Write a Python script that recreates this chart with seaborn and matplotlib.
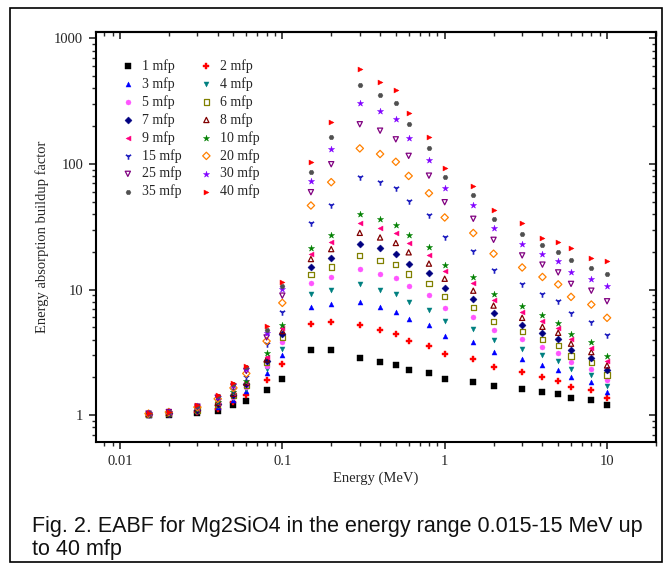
import numpy as np
import pandas as pd
import matplotlib
matplotlib.use("Agg")
import matplotlib.pyplot as plt
import seaborn as sns
from matplotlib.patches import Rectangle
from matplotlib.ticker import NullFormatter, LogLocator

# Data: energy grid (MeV) and EABF values for each penetration depth
energy = [0.015, 0.02, 0.03, 0.04, 0.05, 0.06, 0.08, 0.1, 0.15, 0.2, 0.3, 0.4,
          0.5, 0.6, 0.8, 1, 1.5, 2, 3, 4, 5, 6, 8, 10]

mfp1 = [1.00, 1.01, 1.05, 1.08, 1.20, 1.30, 1.59, 1.95, 3.30, 3.28, 2.87, 2.65,
        2.50, 2.28, 2.15, 1.95, 1.85, 1.71, 1.63, 1.53, 1.47, 1.37, 1.32, 1.20]
mfp2 = [1.01, 1.02, 1.07, 1.13, 1.27, 1.45, 1.90, 2.54, 5.34, 5.50, 5.18, 4.75,
        4.42, 3.89, 3.55, 3.09, 2.82, 2.43, 2.22, 2.03, 1.88, 1.69, 1.59, 1.37]
mfp3 = [1.01, 1.02, 1.08, 1.16, 1.32, 1.55, 2.18, 2.99, 7.29, 7.74, 7.93, 7.24,
        6.65, 5.81, 5.18, 4.31, 3.85, 3.18, 2.78, 2.52, 2.29, 2.01, 1.84, 1.53]
mfp4 = [1.01, 1.03, 1.09, 1.18, 1.36, 1.62, 2.32, 3.38, 9.25, 9.95, 11.0, 9.95,
        9.25, 7.93, 6.85, 5.60, 4.88, 3.94, 3.38, 2.99, 2.70, 2.32, 2.08, 1.71]
mfp5 = [1.02, 1.03, 1.10, 1.20, 1.40, 1.68, 2.46, 3.82, 11.2, 12.5, 14.6, 13.4,
        12.3, 10.6, 9.01, 7.16, 6.03, 4.75, 4.01, 3.51, 3.14, 2.65, 2.35, 1.91]
mfp6 = [1.02, 1.03, 1.10, 1.22, 1.43, 1.73, 2.62, 4.13, 13.2, 15.1, 18.6, 17.1,
        15.8, 13.3, 11.2, 8.75, 7.24, 5.60, 4.67, 4.01, 3.59, 2.96, 2.62, 2.09]
mfp7 = [1.02, 1.04, 1.11, 1.23, 1.46, 1.78, 2.70, 4.45, 15.0, 17.7, 23.1, 21.4,
        19.1, 16.1, 13.6, 10.3, 8.40, 6.49, 5.27, 4.53, 4.01, 3.32, 2.85, 2.29]
mfp8 = [1.02, 1.04, 1.12, 1.25, 1.48, 1.82, 2.78, 4.67, 17.5, 21.0, 28.3, 26.0,
        23.5, 19.8, 16.1, 12.2, 9.80, 7.46, 5.96, 5.06, 4.53, 3.71, 3.18, 2.49]
mfp9 = [1.02, 1.04, 1.12, 1.26, 1.50, 1.85, 2.92, 4.97, 19.3, 23.8, 33.6, 30.9,
        28.2, 23.5, 18.9, 14.0, 11.2, 8.33, 6.61, 5.60, 4.97, 4.01, 3.45, 2.70]
mfp10 = [1.02, 1.05, 1.13, 1.27, 1.52, 1.88, 3.10, 5.18, 21.5, 27.0, 39.9, 36.6,
         32.8, 27.0, 21.8, 15.8, 12.5, 9.25, 7.37, 6.22, 5.44, 4.39, 3.82, 2.96]
mfp15 = [1.03, 1.05, 1.15, 1.32, 1.59, 2.02, 3.66, 6.61, 33.8, 46.7, 79.0, 72.4,
         64.0, 50.9, 38.9, 26.2, 20.1, 14.2, 11.0, 9.25, 8.07, 6.49, 5.54, 4.34]
mfp20 = [1.03, 1.06, 1.16, 1.35, 1.65, 2.15, 3.89, 7.84, 46.7, 71.6, 133, 120,
         104, 80.3, 58.5, 37.5, 28.2, 19.3, 15.0, 12.6, 11.0, 8.75, 7.60, 5.96]
mfp25 = [1.03, 1.06, 1.17, 1.38, 1.70, 2.25, 4.16, 8.95, 59.6, 99.5, 207, 184,
         157, 116, 80.7, 49.6, 36.6, 24.9, 18.7, 15.8, 13.7, 11.1, 9.80, 8.07]
mfp30 = [1.04, 1.07, 1.18, 1.40, 1.73, 2.33, 4.53, 10.1, 73.5, 131, 307, 264,
         226, 160, 108, 64.0, 46.7, 30.9, 23.2, 19.3, 16.8, 13.9, 12.2, 10.6]
mfp35 = [1.04, 1.07, 1.19, 1.42, 1.76, 2.40, 4.80, 10.7, 86.9, 165, 424, 357,
         303, 207, 135, 79.0, 56.8, 36.6, 27.8, 22.8, 19.8, 17.1, 14.8, 13.3]
mfp40 = [1.04, 1.07, 1.20, 1.44, 1.79, 2.46, 5.11, 11.4, 104, 217, 567, 450,
         387, 255, 165, 93.5, 66.9, 43.1, 33.8, 25.7, 23.9, 21.3, 17.7, 17.0]

series = {
    "1 mfp": mfp1, "2 mfp": mfp2, "3 mfp": mfp3, "4 mfp": mfp4,
    "5 mfp": mfp5, "6 mfp": mfp6, "7 mfp": mfp7, "8 mfp": mfp8,
    "9 mfp": mfp9, "10 mfp": mfp10, "15 mfp": mfp15, "20 mfp": mfp20,
    "25 mfp": mfp25, "30 mfp": mfp30, "35 mfp": mfp35, "40 mfp": mfp40,
}

# marker, colour, hollow?
styles = {
    "1 mfp": ("s", "#000000", False),
    "2 mfp": ("P", "#FF0000", False),
    "3 mfp": ("^", "#0000FF", False),
    "4 mfp": ("v", "#008080", False),
    "5 mfp": ("o", "#FF55FF", False),
    "6 mfp": ("s", "#808000", True),
    "7 mfp": ("D", "#000080", False),
    "8 mfp": ("^", "#800000", True),
    "9 mfp": ("<", "#FF0080", False),
    "10 mfp": ("*", "#008000", False),
    "15 mfp": ("1", "#2020C0", False),
    "20 mfp": ("D", "#FF8000", True),
    "25 mfp": ("v", "#800080", True),
    "30 mfp": ("*", "#8000FF", False),
    "35 mfp": ("H", "#505050", False),
    "40 mfp": (">", "#FF0000", False),
}

sns.set_style("white")
plt.rcParams["font.family"] = ["Liberation Serif", "DejaVu Serif"]

fig = plt.figure(figsize=(6.7, 5.64), dpi=100)
ax = fig.add_axes([0.143, 0.216, 0.836, 0.727])

for name, vals in series.items():
    m, c, hollow = styles[name]
    df = pd.DataFrame({"energy": energy, "eabf": vals})
    if hollow:
        sns.scatterplot(data=df, x="energy", y="eabf", marker=m, s=14,
                        facecolor="none", edgecolor=c, linewidth=0.9,
                        ax=ax, label=name)
    elif m == "1":
        sns.scatterplot(data=df, x="energy", y="eabf", marker=m, s=22,
                        color=c, linewidth=1.2, ax=ax, label=name)
    else:
        size = 22 if m in ("*", "P") else 13
        sns.scatterplot(data=df, x="energy", y="eabf", marker=m, s=size,
                        color=c, edgecolor=c, linewidth=0.3, ax=ax, label=name)

ax.set_xscale("log")
ax.set_yscale("log")
ax.set_xlim(0.0071, 20)
ax.set_ylim(0.61, 1120)

ax.set_xticks([0.01, 0.1, 1, 10], labels=["0.01", "0.1", "1", "10"])
ax.set_yticks([1, 10, 100, 1000], labels=["1", "10", "100", "1000"])
ax.xaxis.set_minor_locator(LogLocator(base=10, subs=np.arange(2, 10), numticks=20))
ax.yaxis.set_minor_locator(LogLocator(base=10, subs=np.arange(2, 10), numticks=20))
ax.xaxis.set_minor_formatter(NullFormatter())
ax.yaxis.set_minor_formatter(NullFormatter())
ax.tick_params(which="major", direction="out", length=5, width=1.2,
               labelsize=10.5, pad=4, bottom=True, left=True)
ax.tick_params(which="minor", direction="out", length=3, width=1.0,
               bottom=True, left=True)

# mirrored ticks pointing inward on top and right
top = ax.secondary_xaxis("top")
top.tick_params(which="major", direction="in", length=5, width=1.2, labeltop=False)
top.tick_params(which="minor", direction="in", length=3, width=1.0, labeltop=False)
top.xaxis.set_minor_locator(LogLocator(base=10, subs=np.arange(2, 10), numticks=20))
top.xaxis.set_major_formatter(NullFormatter())
top.xaxis.set_minor_formatter(NullFormatter())
right = ax.secondary_yaxis("right")
right.tick_params(which="major", direction="in", length=5, width=1.2, labelright=False)
right.tick_params(which="minor", direction="in", length=3, width=1.0, labelright=False)
right.yaxis.set_minor_locator(LogLocator(base=10, subs=np.arange(2, 10), numticks=20))
right.yaxis.set_major_formatter(NullFormatter())
right.yaxis.set_minor_formatter(NullFormatter())
for sp in ax.spines.values():
    sp.set_linewidth(1.5)
    sp.set_color("black")
for sec in (top, right):
    for sp in sec.spines.values():
        sp.set_linewidth(1.5)

ax.set_xlabel("Energy (MeV)", fontsize=10.5, labelpad=3)
ax.set_ylabel("Energy absorption buildup factor", fontsize=10.5, labelpad=4)

# legend: two columns, filled row-wise like the original
names = list(series.keys())
h, l = ax.get_legend_handles_labels()
lookup = dict(zip(l, h))
order = names[0::2] + names[1::2]
ax.legend([lookup[n] for n in order], order, ncol=2, frameon=False,
          loc="upper left", bbox_to_anchor=(0.02, 0.965), fontsize=10,
          handletextpad=0.4, columnspacing=1.2, labelspacing=0.3,
          handlelength=1.2, markerscale=1.0)

fig.text(0.048, 0.085, "Fig. 2. EABF for Mg2SiO4 in the energy range 0.015-15 MeV up\nto 40 mfp",
         fontsize=15.5, family="Liberation Sans", va="top", ha="left",
         linespacing=1.15, color="#111111")
fig.add_artist(Rectangle((0.015, 0.004), 0.973, 0.982, transform=fig.transFigure,
                         fill=False, edgecolor="black", linewidth=1.2))

fig.savefig("out.png", dpi=100)
